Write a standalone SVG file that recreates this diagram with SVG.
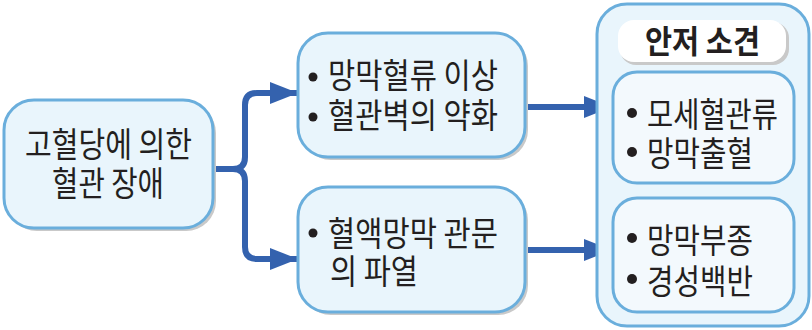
<svg xmlns="http://www.w3.org/2000/svg" width="812" height="330" viewBox="0 0 812 330">
<defs>
<style>
.node{fill:#e9f5fc;stroke:#6aaedc;stroke-width:3}
.inner{fill:#f3f9fd;stroke:#6aaedc;stroke-width:3}
.shadow{fill:#c9c9c9}
.t{font-family:"Noto Sans CJK KR","Noto Sans",sans-serif;font-size:34px;fill:#231f20}
.b{font-family:"Noto Sans CJK KR","Noto Sans",sans-serif;font-size:32px;font-weight:bold;fill:#231f20}
.bul{fill:#231f20}
.conn{fill:none;stroke:#3462ae;stroke-width:6}
</style>
<marker id="ah" markerUnits="userSpaceOnUse" markerWidth="30" markerHeight="22" refX="28" refY="11" orient="auto">
<path d="M0,0 L28,11 L0,22 Z" fill="#3462ae"/>
</marker>
</defs>
<rect width="812" height="330" fill="#ffffff"/>

<g id="connectors">
<path class="conn" d="M213,169 H233 Q245,169 245,157 V105 Q245,93 257,93 H298" marker-end="url(#ah)"/>
<path class="conn" d="M233,169 Q245,169 245,181 V247 Q245,259 257,259 H298" marker-end="url(#ah)"/>
<path class="conn" d="M525,107 H612" marker-end="url(#ah)"/>
<path class="conn" d="M525,250 H612" marker-end="url(#ah)"/>
</g>

<g id="n-cause">
<rect class="shadow" x="7" y="103" width="209" height="128" rx="30"/>
<rect class="node" x="4" y="100" width="209" height="128" rx="30"/>
<text class="t" x="25" y="157" textLength="167" lengthAdjust="spacingAndGlyphs">고혈당에 의한</text>
<text class="t" x="52" y="196" textLength="112" lengthAdjust="spacingAndGlyphs">혈관 장애</text>
</g>

<g id="n-flow">
<rect class="shadow" x="301" y="36" width="227" height="124" rx="30"/>
<rect class="node" x="298" y="33" width="227" height="124" rx="30"/>
<circle class="bul" cx="313" cy="77" r="4.5"/>
<text class="t" x="328" y="88" textLength="170" lengthAdjust="spacingAndGlyphs">망막혈류 이상</text>
<circle class="bul" cx="313" cy="117" r="4.5"/>
<text class="t" x="328" y="128" textLength="170" lengthAdjust="spacingAndGlyphs">혈관벽의 약화</text>
</g>

<g id="n-barrier">
<rect class="shadow" x="301" y="190" width="227" height="125" rx="30"/>
<rect class="node" x="298" y="187" width="227" height="125" rx="30"/>
<circle class="bul" cx="313" cy="233" r="4.5"/>
<text class="t" x="328" y="246" textLength="170" lengthAdjust="spacingAndGlyphs">혈액망막 관문</text>
<text class="t" x="330" y="284" textLength="88" lengthAdjust="spacingAndGlyphs">의 파열</text>
</g>

<g id="n-fundus">
<rect class="node" x="597" y="4" width="212" height="322" rx="30"/>
<rect class="shadow" x="620" y="22" width="169" height="43" rx="16"/>
<rect x="618" y="20" width="168" height="42" rx="16" fill="#ffffff"/>
<text class="b" x="645" y="53" textLength="115" lengthAdjust="spacingAndGlyphs">안저 소견</text>
</g>

<g id="n-fundus-1">
<rect class="inner" x="613" y="72" width="181" height="111" rx="24"/>
<circle class="bul" cx="632" cy="113" r="5"/>
<text class="t" x="647" y="127" textLength="131" lengthAdjust="spacingAndGlyphs">모세혈관류</text>
<circle class="bul" cx="632" cy="152" r="5"/>
<text class="t" x="647" y="166" textLength="106" lengthAdjust="spacingAndGlyphs">망막출혈</text>
</g>

<g id="n-fundus-2">
<rect class="inner" x="613" y="198" width="181" height="114" rx="24"/>
<circle class="bul" cx="632" cy="238" r="5"/>
<text class="t" x="647" y="253" textLength="106" lengthAdjust="spacingAndGlyphs">망막부종</text>
<circle class="bul" cx="632" cy="279" r="5"/>
<text class="t" x="647" y="294" textLength="106" lengthAdjust="spacingAndGlyphs">경성백반</text>
</g>
</svg>
